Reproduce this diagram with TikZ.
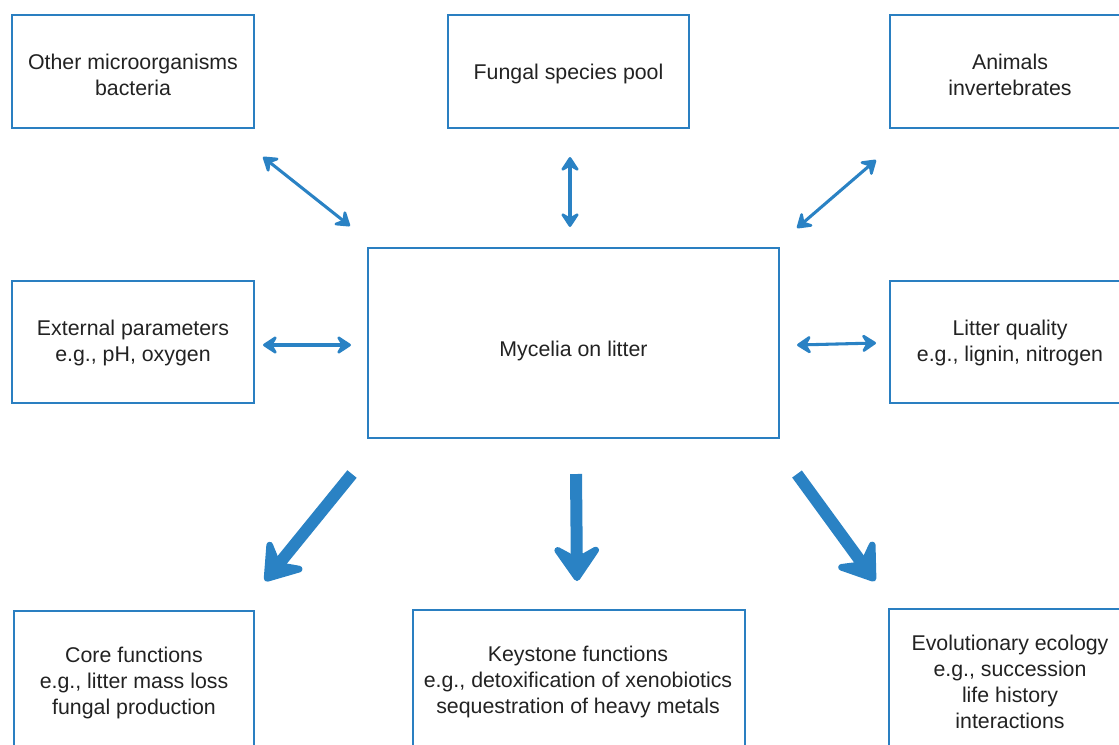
\documentclass[tikz,border=0pt]{standalone}
\usepackage{fontspec}
\setmainfont{Liberation Sans}
\usetikzlibrary{arrows.meta}
\definecolor{boxblue}{HTML}{2A7FC1}
\definecolor{arrblue}{HTML}{2A82C4}
\definecolor{txt}{HTML}{222222}
\begin{document}
\begin{tikzpicture}[x=0.75pt,y=-0.75pt,
  box/.style={draw=boxblue,line width=1.6pt,rectangle,inner sep=0pt},
  lbl/.style={text=txt,align=center,inner sep=0pt,font=\fontsize{16}{19.5}\selectfont},
  thin arrow/.style={draw=arrblue,line width=2.3pt,
    {Stealth[round,length=13pt,width=17pt,inset=5pt]}-{Stealth[round,length=13pt,width=17pt,inset=5pt]}},
  big arrow/.style={draw=arrblue,line width=9pt,
    -{Stealth[round,length=32pt,width=44pt,inset=12pt]}}]
\useasboundingbox (0,0) rectangle (1119,744);
\clip (0,0) rectangle (1119,744);
% boxes
\node[box,minimum width=242*0.75pt,minimum height=113*0.75pt] (micro) at (133,71.5) {};
\node[box,minimum width=241*0.75pt,minimum height=113*0.75pt] (pool) at (568.5,71.5) {};
\node[box,minimum width=242*0.75pt,minimum height=113*0.75pt] (animals) at (1011,71.5) {};
\node[box,minimum width=242*0.75pt,minimum height=122*0.75pt] (ext) at (133,342) {};
\node[box,minimum width=411*0.75pt,minimum height=190*0.75pt] (myc) at (573.5,343) {};
\node[box,minimum width=242*0.75pt,minimum height=122*0.75pt] (lit) at (1011,342) {};
\node[box,minimum width=240*0.75pt,minimum height=140*0.75pt] (core) at (134,681) {};
\node[box,minimum width=332*0.75pt,minimum height=142*0.75pt] (key) at (579,681) {};
\node[box,minimum width=242*0.75pt,minimum height=144*0.75pt] (evo) at (1010,681) {};
% texts
\node[lbl] (microT) at (133,74.5) {Other microorganisms\\bacteria};
\node[lbl] (poolT) at (568.5,73.5) {Fungal species pool};
\node[lbl] (animalsT) at (1010,74.5) {Animals\\invertebrates};
\node[lbl] (extT) at (133,342.5) {External parameters\\e.g., pH, oxygen};
\node[lbl] (mycT) at (573.5,350.5) {Mycelia on litter};
\node[lbl] (litT) at (1010,342.5) {Litter quality\\e.g., lignin, nitrogen};
\node[lbl] (coreT) at (134,682.5) {Core functions\\e.g., litter mass loss\\fungal production};
\node[lbl] (keyT) at (578,682) {Keystone functions\\e.g., detoxification of xenobiotics\\sequestration of heavy metals};
\node[lbl] (evoT) at (1010,681.5) {Evolutionary ecology\\e.g., succession\\life history\\interactions};
% arrow end points
\coordinate (a1) at (263,157); \coordinate (b1) at (350,226);
\coordinate (a2) at (570,157); \coordinate (b2) at (570,227);
\coordinate (a3) at (876,160); \coordinate (b3) at (797,228);
\coordinate (a4) at (263,345); \coordinate (b4) at (351,345);
\coordinate (a5) at (797,345); \coordinate (b5) at (876,343);
\coordinate (c1) at (352,474); \coordinate (d1) at (265,581);
\coordinate (c2) at (576,474); \coordinate (d2) at (577,581);
\coordinate (c3) at (797,474); \coordinate (d3) at (875,581);
% thin double arrows
\draw[thin arrow] (a1) -- (b1);
\draw[thin arrow] (a2) -- (b2);
\draw[thin arrow] (a3) -- (b3);
\draw[thin arrow] (a4) -- (b4);
\draw[thin arrow] (a5) -- (b5);
% big arrows
\draw[big arrow] (c1) -- (d1);
\draw[big arrow] (c2) -- (d2);
\draw[big arrow] (c3) -- (d3);
\end{tikzpicture}
\end{document}
